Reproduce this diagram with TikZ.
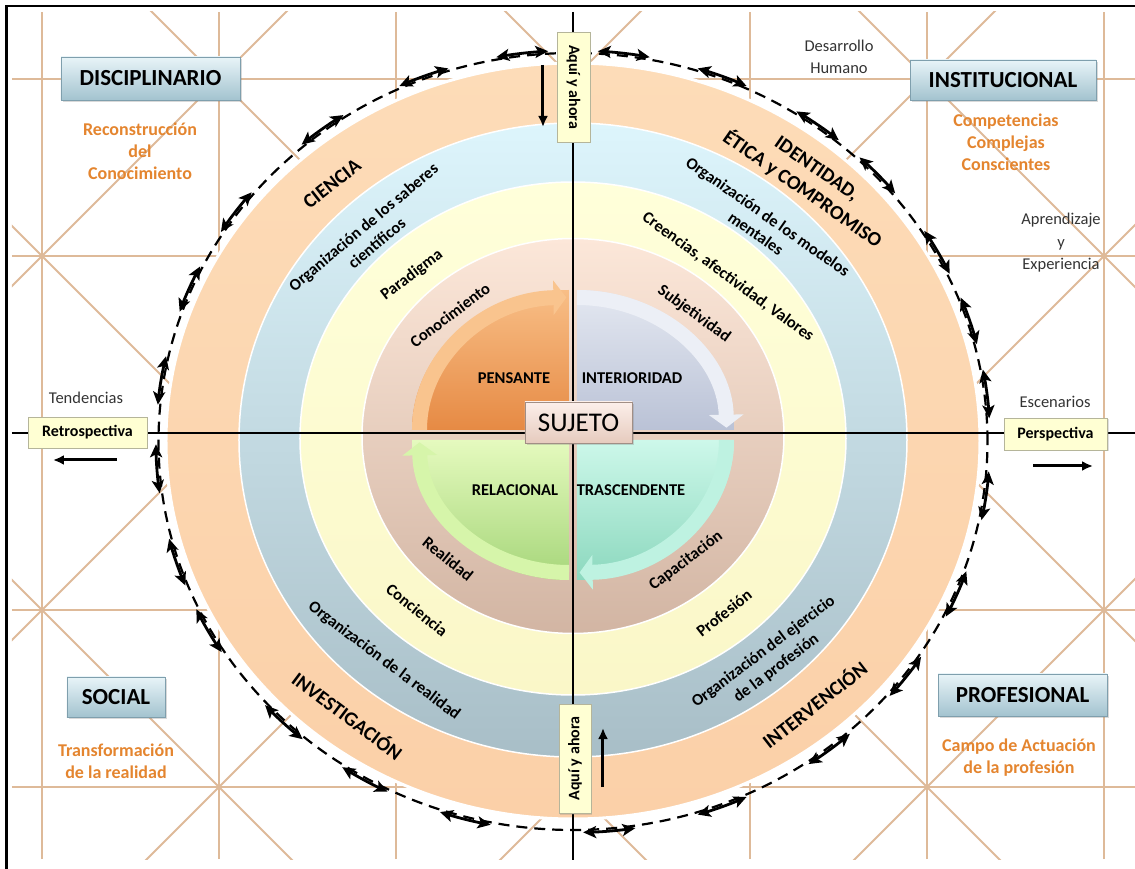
\documentclass[tikz,border=0pt]{standalone}
\usepackage{fontspec}
\setmainfont{Carlito}
\usetikzlibrary{arrows.meta,shadows}

\definecolor{gridtan}{RGB}{222,186,153}
\definecolor{peachtop}{RGB}{253,220,184}
\definecolor{peachbot}{RGB}{251,208,168}
\definecolor{bluetop}{RGB}{221,245,252}
\definecolor{bluebot}{RGB}{168,190,199}
\definecolor{yellowtop}{RGB}{255,255,218}
\definecolor{yellowbot}{RGB}{250,247,200}
\definecolor{pinktop}{RGB}{252,231,217}
\definecolor{pinkbot}{RGB}{210,181,163}
\definecolor{penstop}{RGB}{248,190,134}
\definecolor{pensbot}{RGB}{230,138,68}
\definecolor{pensband}{RGB}{249,196,142}
\definecolor{intertop}{RGB}{228,232,241}
\definecolor{interbot}{RGB}{186,194,214}
\definecolor{interband}{RGB}{236,239,246}
\definecolor{trastop}{RGB}{205,248,234}
\definecolor{trasbot}{RGB}{140,216,190}
\definecolor{trasband}{RGB}{190,242,225}
\definecolor{reltop}{RGB}{229,250,190}
\definecolor{relbot}{RGB}{166,214,122}
\definecolor{relband}{RGB}{214,245,170}
\definecolor{headtop}{RGB}{232,244,248}
\definecolor{headbot}{RGB}{163,195,207}
\definecolor{headline}{RGB}{127,159,173}
\definecolor{notefill}{RGB}{255,255,211}
\definecolor{noteline}{RGB}{181,181,154}
\definecolor{sujtop}{RGB}{252,239,234}
\definecolor{sujbot}{RGB}{230,203,190}
\definecolor{orangetext}{RGB}{228,133,47}
\definecolor{sidetext}{RGB}{51,51,51}

\tikzset{
    gridline/.style={draw=gridtan,line width=1.8pt},
    axisline/.style={draw=black,line width=2.2pt},
    ring/.style={draw=white,line width=1.5pt},
    orbit/.style={draw=black,line width=2.2pt,dash pattern=on 11pt off 7pt},
    orbitarrow/.style={draw=black,line width=2.8pt,{Stealth[length=13pt,width=12pt,inset=3pt]}-{Stealth[length=13pt,width=12pt,inset=3pt]}},
    headbox/.style={draw=headline,top color=headtop,bottom color=headbot,line width=0.8pt,inner sep=0pt,
        font=\fontsize{23}{26}\selectfont\bfseries,drop shadow={opacity=0.3,shadow xshift=2pt,shadow yshift=-2pt}},
    notebox/.style={draw=noteline,fill=notefill,line width=0.8pt,inner sep=0pt,
        font=\fontsize{16}{18}\selectfont\bfseries,drop shadow={opacity=0.25,shadow xshift=1.5pt,shadow yshift=-1.5pt}},
    band/.style={line width=15pt,-{Triangle[width=34pt,length=13pt]}},
    pointer/.style={draw=black,line width=3pt,-{Latex[length=11pt,width=10pt]}}
}

\begin{document}
\begin{tikzpicture}[x=1pt,y=1pt]
        \useasboundingbox (-573,-436) rectangle (562,433);

        \begin{scope}
            \clip (-561,-426) rectangle (562,421);
            \foreach \i in {-3,...,3}
                \draw[gridline] (177*\i,-426) -- (177*\i,421);
            \foreach \j in {-2,...,2}
                \draw[gridline] (-561,177*\j) -- (562,177*\j);
            \foreach \m in {-2,...,2} {
                \draw[gridline] (354*\m-900,-900) -- (354*\m+900,900);
                \draw[gridline] (354*\m+900,-900) -- (354*\m-900,900);
            }
        \end{scope}
        \draw[line width=2.4pt] (-566.5,-436) -- (-566.5,427) -- (562,427);

        \path[ring,line width=3pt,top color=peachtop,bottom color=peachbot] (0,-8) ellipse [x radius=407,y radius=378];
        \path[ring,top color=bluetop,bottom color=bluebot] (0,-7) ellipse [x radius=334,y radius=317];
        \path[ring,top color=yellowtop,bottom color=yellowbot] (0,-5.5) ellipse [x radius=273,y radius=256.5];
        \path[ring,top color=pinktop,bottom color=pinkbot] (0,-3) ellipse [x radius=211,y radius=197.5];

        \draw[orbit] (0,-8.5) ellipse [x radius=414.5,y radius=388.5];
        \foreach \t in {7,18,29,43,54,69,83,97,111,127,144,157,171,184,198,209,226,240,255,275,291,308,323,337,352}
            \draw[orbitarrow] ([shift={({\t-3.6}:417 and 391)}]0,-8.5) arc[start angle=\t-3.6,end angle=\t+3.6,x radius=417,y radius=391];

        \path[top color=penstop,bottom color=pensbot] (-4,3) -- (-161,3) arc[start angle=180,end angle=90,x radius=157,y radius=140] -- cycle;
        \draw[band,draw=pensband] (-153.5,3) arc[start angle=180,end angle=91,x radius=149.5,y radius=132.5];
        \path[top color=intertop,bottom color=interbot] (4,3) -- (4,143) arc[start angle=90,end angle=0,x radius=157,y radius=140] -- cycle;
        \draw[band,draw=interband] (4,135.5) arc[start angle=90,end angle=1,x radius=149.5,y radius=132.5];
        \path[top color=trastop,bottom color=trasbot] (4,-7) -- (161,-7) arc[start angle=0,end angle=-90,x radius=157,y radius=140] -- cycle;
        \draw[band,draw=trasband] (153.5,-7) arc[start angle=0,end angle=-89,x radius=149.5,y radius=132.5];
        \path[top color=reltop,bottom color=relbot] (-4,-7) -- (-4,-147) arc[start angle=270,end angle=180,x radius=157,y radius=140] -- cycle;
        \draw[band,draw=relband] (-4,-139.5) arc[start angle=270,end angle=181,x radius=149.5,y radius=132.5];

        \draw[axisline] (0,421) -- (0,-427);
        \draw[axisline] (-561,0) -- (562,0);

        \begin{scope}[every node/.style={font=\fontsize{20}{25}\selectfont\bfseries,align=center}]
            \node[rotate=38] (ciencia) at (-241,249) {CIENCIA};
            \node[rotate=-35] (identidad) at (236,253) {IDENTIDAD,\\ÉTICA y COMPROMISO};
            \node[rotate=-37] (investigacion) at (-225,-282) {INVESTIGACIÓN};
            \node[rotate=38] (intervencion) at (241,-271) {INTERVENCIÓN};
        \end{scope}
        \begin{scope}[every node/.style={font=\fontsize{16.5}{21}\selectfont\bfseries,align=center}]
            \node[rotate=40] (saberes) at (-203,198) {Organización de los saberes\\científicos};
            \node[rotate=37] (paradigma) at (-161,158) {Paradigma};
            \node[rotate=37] (conocimiento) at (-123,118) {Conocimiento};
            \node[rotate=-35] (modelos) at (189,208) {Organización de los modelos\\mentales};
            \node[rotate=-36] (creencias) at (155,156) {Creencias, afectividad, Valores};
            \node[rotate=-36] (subjetividad) at (121,119) {Subjetividad};
            \node[rotate=-39] (realidad) at (-125,-126) {Realidad};
            \node[rotate=-39] (conciencia) at (-156,-177) {Conciencia};
            \node[rotate=-37] (orgrealidad) at (-189,-228) {Organización de la realidad};
            \node[rotate=37] (capacitacion) at (113,-128) {Capacitación};
            \node[rotate=38] (profesion) at (151,-180) {Profesión};
            \node[rotate=37] (ejercicio) at (197,-227) {Organización del ejercicio\\de la profesión};
        \end{scope}
        \begin{scope}[every node/.style={font=\fontsize{16.5}{20}\selectfont\bfseries}]
            \node (pensante) at (-59,55) {PENSANTE};
            \node (interioridad) at (59,55) {INTERIORIDAD};
            \node (relacional) at (-58,-57) {RELACIONAL};
            \node (trascendente) at (58,-57) {TRASCENDENTE};
        \end{scope}
        \node[draw=sujbot!70!black,top color=sujtop,bottom color=sujbot,line width=0.8pt,minimum width=107pt,minimum height=41pt,
            font=\fontsize{27}{30}\selectfont,drop shadow={opacity=0.3,shadow xshift=2pt,shadow yshift=-2pt}] (sujeto) at (5.5,10.5) {SUJETO};

        \node[headbox,minimum width=179pt,minimum height=43pt] (disciplinario) at (-422.5,354.5) {DISCIPLINARIO};
        \node[headbox,minimum width=186pt,minimum height=40pt] (institucional) at (430,353) {INSTITUCIONAL};
        \node[headbox,minimum width=98pt,minimum height=40pt] (social) at (-457,-264) {SOCIAL};
        \node[headbox,minimum width=169pt,minimum height=42pt] (profesional) at (449.5,-262) {PROFESIONAL};

        \begin{scope}[every node/.style={font=\fontsize{18}{22}\selectfont\bfseries,text=orangetext,align=center}]
            \node (reconstruccion) at (-433,282) {Reconstrucción\\del\\Conocimiento};
            \node (competencias) at (433,290.5) {Competencias\\Complejas\\Conscientes};
            \node (transformacion) at (-457,-328.5) {Transformación\\de la realidad};
            \node (campo) at (446,-324.5) {Campo de Actuación\\de la profesión};
        \end{scope}
        \begin{scope}[every node/.style={font=\fontsize{16.5}{22.5}\selectfont,text=sidetext,align=center}]
            \node (desarrollo) at (266,376) {Desarrollo\\Humano};
            \node (aprendizaje) at (488,190) {Aprendizaje\\y\\Experiencia};
            \node (tendencias) at (-487,35) {Tendencias};
            \node (escenarios) at (482,31) {Escenarios};
        \end{scope}

        \node[notebox,minimum width=119pt,minimum height=31pt] (retro) at (-485.5,0.5) {Retrospectiva};
        \node[notebox,minimum width=103pt,minimum height=32pt] (persp) at (482.5,-1) {Perspectiva};
        \node[notebox,minimum width=110pt,minimum height=33pt,rotate=-90] (aquitop) at (0.5,346) {Aquí y ahora};
        \node[notebox,minimum width=109pt,minimum height=32pt,rotate=90] (aquibot) at (2,-325.5) {Aquí y ahora};

        \coordinate (downs) at (-30,368);
        \coordinate (downe) at (-30,306);
        \coordinate (ups) at (30,-354);
        \coordinate (upe) at (30,-295);
        \coordinate (lefts) at (-456,-27);
        \coordinate (lefte) at (-520,-27);
        \coordinate (rights) at (460,-33);
        \coordinate (righte) at (520,-33);
        \draw[pointer] (downs) -- (downe);
        \draw[pointer] (ups) -- (upe);
        \draw[pointer] (lefts) -- (lefte);
        \draw[pointer] (rights) -- (righte);
\end{tikzpicture}
\end{document}
